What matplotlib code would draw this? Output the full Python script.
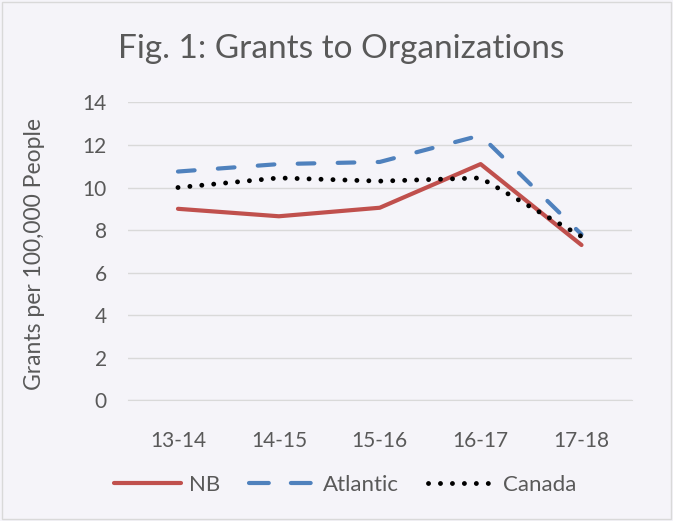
import matplotlib.pyplot as plt
import matplotlib.patches as patches
from matplotlib.lines import Line2D

plt.rcParams['font.family'] = ['Lato', 'DejaVu Sans']

years = ["13-14", "14-15", "15-16", "16-17", "17-18"]
nb = [9.0, 8.65, 9.05, 11.1, 7.3]
atlantic = [10.75, 11.1, 11.2, 12.45, 7.8]
canada = [10.0, 10.45, 10.3, 10.45, 7.7]

bg = "#F5F4F9"
txt = "#595959"
red = "#C0504D"
blue = "#4F81BD"

fig = plt.figure(figsize=(6.73, 5.21), dpi=100, facecolor=bg)
ax = fig.add_axes([0.1895, 0.2313, 0.7495, 0.5723], facecolor=bg)

x = range(len(years))
ax.plot(x, nb, color=red, lw=3, solid_capstyle="round", zorder=3)
ax.plot(x, atlantic, color=blue, lw=3, dashes=(4, 5.6), dash_capstyle="round", zorder=3)
ax.plot(x, canada, color="black", lw=3.5, dashes=(0.01, 2.45), dash_capstyle="round", zorder=4)

ax.set_xlim(-0.5, len(years) - 0.5)
ax.set_ylim(0, 14)
ax.set_yticks(range(0, 15, 2))
ax.set_xticks(list(x))
ax.set_xticklabels(years)
ax.grid(axis="y", color="#D9D9D9", lw=1)
ax.set_axisbelow(True)
for s in ["top", "right", "left"]:
    ax.spines[s].set_visible(False)
ax.spines["bottom"].set_color("#D9D9D9")
ax.tick_params(length=0, labelsize=15, colors=txt, pad=22)
ax.tick_params(axis="y", pad=15)
ax.set_ylabel("Grants per 100,000 People", fontsize=16.5, color=txt)
ax.yaxis.set_label_coords(-0.163, 0.49)

fig.text(0.507, 0.905, "Fig. 1: Grants to Organizations", ha="center", va="center",
         fontsize=24, color=txt)

handles = [
    Line2D([], [], color=red, lw=3, solid_capstyle="round"),
    Line2D([], [], color=blue, lw=3, dashes=(4.75, 5.3), dash_capstyle="round"),
    Line2D([], [], color="black", lw=3.5, dashes=(0.01, 2.45), dash_capstyle="round"),
]
fig.legend(handles, ["NB", "Atlantic", "Canada"], loc="center", bbox_to_anchor=(0.513, 0.07),
           ncol=3, frameon=False, fontsize=16, labelcolor=txt, handlelength=3.0,
           handletextpad=0.35, columnspacing=1.3)

fig.patches.append(patches.Rectangle((0.003, 0.003), 0.994, 0.994, transform=fig.transFigure,
                                     fill=False, edgecolor="#D9D9D9", lw=1))

fig.savefig("out.png", dpi=100, facecolor=bg)
